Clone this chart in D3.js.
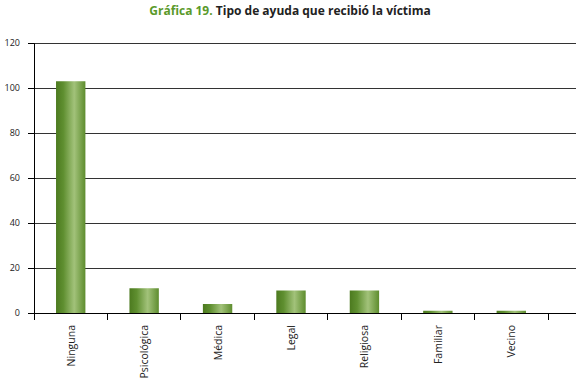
<!DOCTYPE html>
<html><head><meta charset="utf-8">
<script src="https://cdn.jsdelivr.net/npm/d3@7"></script>
<style>body{margin:0;background:#fff}</style>
</head><body>
<svg id="c" width="580" height="380"></svg>
<script>
const categories = ["Ninguna","Psicológica","Médica","Legal","Religiosa","Familiar","Vecino"];
const values = [103, 11, 4, 10, 10, 1, 1];
const yTicks = [0,20,40,60,80,100,120];

const svg = d3.select("#c");
const x = d3.scaleBand().domain(categories).range([34,548]).paddingInner(0.6).paddingOuter(0.3);
const y = d3.scaleLinear().domain([0,120]).range([313,43]);

const defs = svg.append("defs");
const g = defs.append("linearGradient").attr("id","bg").attr("x1","0").attr("x2","1").attr("y1","0").attr("y2","0");
g.append("stop").attr("offset","0%").attr("stop-color","#4c7a1f");
g.append("stop").attr("offset","25%").attr("stop-color","#5f8f30");
g.append("stop").attr("offset","62%").attr("stop-color","#a2c27a");
g.append("stop").attr("offset","100%").attr("stop-color","#5e8d2e");

// gridlines
svg.append("g").selectAll("line").data(yTicks.filter(d=>d>0)).join("line")
  .attr("x1",34).attr("x2",576).attr("y1",d=>y(d)).attr("y2",d=>y(d))
  .attr("stroke","#333").attr("stroke-width",1).attr("shape-rendering","crispEdges");

// bars
svg.append("g").selectAll("rect").data(values).join("rect")
  .attr("x",(d,i)=>x(categories[i])).attr("width",x.bandwidth())
  .attr("y",d=>y(d)).attr("height",d=>y(0)-y(d))
  .attr("fill","url(#bg)");

// y axis
const ya = svg.append("g").attr("transform","translate(34,0)")
  .call(d3.axisLeft(y).tickValues(yTicks).tickSize(6).tickPadding(8));
ya.select(".domain").attr("stroke","#000");
ya.selectAll(".tick line").attr("stroke","#000");
ya.selectAll("text").attr("font-family","Open Sans, sans-serif").attr("font-size",9).attr("fill","#222");

// x axis
const x2 = d3.scalePoint().domain(d3.range(8)).range([34,548]);
svg.append("line").attr("x1",34).attr("x2",576).attr("y1",313).attr("y2",313).attr("stroke","#000").attr("shape-rendering","crispEdges");
svg.append("g").selectAll("line").data(d3.range(8)).join("line")
  .attr("x1",d=>x2(d)).attr("x2",d=>x2(d)).attr("y1",313).attr("y2",320)
  .attr("stroke","#000").attr("shape-rendering","crispEdges");
svg.append("g").selectAll("text").data(categories).join("text")
  .attr("transform",d=>`translate(${x(d)+x.bandwidth()/2+4},325) rotate(-90)`)
  .attr("text-anchor","end").attr("font-family","Open Sans, sans-serif").attr("font-size",10.5).attr("fill","#222")
  .text(d=>d);

// title
const t = svg.append("text").attr("x",290).attr("y",15).attr("text-anchor","middle")
  .attr("font-family","Open Sans, sans-serif").attr("font-size",12).attr("font-weight","bold");
t.append("tspan").attr("fill","#5a9a2a").text("Gráfica 19. ");
t.append("tspan").attr("fill","#222").text("Tipo de ayuda que recibió la víctima");
</script>
</body></html>
